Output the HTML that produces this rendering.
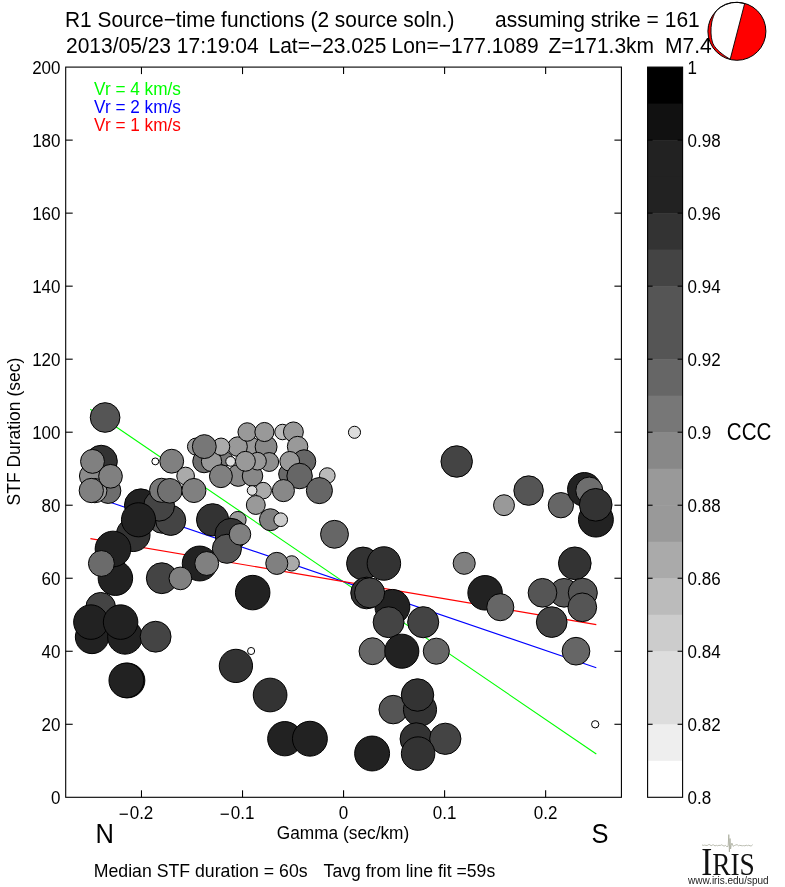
<!DOCTYPE html>
<html><head><meta charset="utf-8"><style>
html,body{margin:0;padding:0;background:#fff;width:785px;height:887px;overflow:hidden}
svg{display:block;font-family:'Liberation Sans', Arial, Helvetica, sans-serif;will-change:transform}
</style></head><body>
<svg width="785" height="887" viewBox="0 0 785 887">
<rect width="785" height="887" fill="#fff"/>
<line x1="90.2" y1="409.2" x2="596.3" y2="754.0" stroke="#00ff00" stroke-width="1.1"/>
<line x1="90.2" y1="495.4" x2="596.3" y2="667.7" stroke="#0000ff" stroke-width="1.1"/>
<line x1="90.4" y1="538.6" x2="596.3" y2="624.6" stroke="#ff0000" stroke-width="1.1"/>
<circle cx="105.1" cy="417.5" r="14.85" fill="#555" stroke="#000" stroke-width="1"/>
<circle cx="101.2" cy="461.4" r="16.15" fill="#333" stroke="#000" stroke-width="1"/>
<circle cx="91.5" cy="476.0" r="12.05" fill="#8c8c8c" stroke="#000" stroke-width="1"/>
<circle cx="108.2" cy="490.8" r="12.65" fill="#6e6e6e" stroke="#000" stroke-width="1"/>
<circle cx="94.8" cy="490.6" r="12.15" fill="#999" stroke="#000" stroke-width="1"/>
<circle cx="92.5" cy="461.4" r="11.95" fill="#808080" stroke="#000" stroke-width="1"/>
<circle cx="110.5" cy="476.3" r="11.85" fill="#808080" stroke="#000" stroke-width="1"/>
<circle cx="91.3" cy="490.5" r="12.15" fill="#808080" stroke="#000" stroke-width="1"/>
<circle cx="155.3" cy="461.4" r="3.45" fill="#fff" stroke="#000" stroke-width="1"/>
<circle cx="171.7" cy="461.2" r="11.95" fill="#808080" stroke="#000" stroke-width="1"/>
<circle cx="185.6" cy="476.0" r="8.85" fill="#aaa" stroke="#000" stroke-width="1"/>
<circle cx="140.8" cy="505.2" r="16.35" fill="#222" stroke="#000" stroke-width="1"/>
<circle cx="162.0" cy="519.4" r="13.85" fill="#555" stroke="#000" stroke-width="1"/>
<circle cx="170.7" cy="520.4" r="15.05" fill="#444" stroke="#000" stroke-width="1"/>
<circle cx="159.1" cy="505.7" r="15.45" fill="#444" stroke="#000" stroke-width="1"/>
<circle cx="161.6" cy="490.3" r="12.05" fill="#777" stroke="#000" stroke-width="1"/>
<circle cx="169.8" cy="490.8" r="12.35" fill="#717171" stroke="#000" stroke-width="1"/>
<circle cx="193.9" cy="490.5" r="12.05" fill="#808080" stroke="#000" stroke-width="1"/>
<circle cx="196.0" cy="446.6" r="8.55" fill="#999" stroke="#000" stroke-width="1"/>
<circle cx="204.1" cy="461.4" r="11.35" fill="#6e6e6e" stroke="#000" stroke-width="1"/>
<circle cx="226.0" cy="459.0" r="6.85" fill="#777" stroke="#000" stroke-width="1"/>
<circle cx="211.5" cy="461.4" r="10.15" fill="#999" stroke="#000" stroke-width="1"/>
<circle cx="251.5" cy="446.8" r="9.35" fill="#999" stroke="#000" stroke-width="1"/>
<circle cx="237.6" cy="446.6" r="9.75" fill="#999" stroke="#000" stroke-width="1"/>
<circle cx="221.1" cy="446.7" r="8.65" fill="#aaa" stroke="#000" stroke-width="1"/>
<circle cx="204.3" cy="446.6" r="11.95" fill="#777" stroke="#000" stroke-width="1"/>
<circle cx="230.6" cy="461.4" r="4.85" fill="#ddd" stroke="#000" stroke-width="1"/>
<circle cx="238.2" cy="475.5" r="10.85" fill="#888" stroke="#000" stroke-width="1"/>
<circle cx="220.9" cy="476.2" r="11.45" fill="#808080" stroke="#000" stroke-width="1"/>
<circle cx="266.1" cy="446.8" r="10.95" fill="#888" stroke="#000" stroke-width="1"/>
<circle cx="247.2" cy="432.0" r="9.25" fill="#999" stroke="#000" stroke-width="1"/>
<circle cx="264.4" cy="432.0" r="9.55" fill="#999" stroke="#000" stroke-width="1"/>
<circle cx="282.5" cy="432.0" r="7.75" fill="#bbb" stroke="#000" stroke-width="1"/>
<circle cx="293.4" cy="431.9" r="9.95" fill="#999" stroke="#000" stroke-width="1"/>
<circle cx="297.6" cy="446.6" r="10.25" fill="#999" stroke="#000" stroke-width="1"/>
<circle cx="252.5" cy="476.0" r="10.25" fill="#888" stroke="#000" stroke-width="1"/>
<circle cx="269.2" cy="462.0" r="9.45" fill="#8f8f8f" stroke="#000" stroke-width="1"/>
<circle cx="257.5" cy="461.2" r="8.85" fill="#999" stroke="#000" stroke-width="1"/>
<circle cx="245.4" cy="461.3" r="9.95" fill="#999" stroke="#000" stroke-width="1"/>
<circle cx="304.1" cy="461.4" r="11.65" fill="#666" stroke="#000" stroke-width="1"/>
<circle cx="289.0" cy="474.0" r="10.35" fill="#6a6a6a" stroke="#000" stroke-width="1"/>
<circle cx="289.7" cy="461.3" r="9.85" fill="#999" stroke="#000" stroke-width="1"/>
<circle cx="299.6" cy="476.0" r="12.75" fill="#666" stroke="#000" stroke-width="1"/>
<circle cx="327.3" cy="475.6" r="7.85" fill="#bbb" stroke="#000" stroke-width="1"/>
<circle cx="263.2" cy="490.6" r="8.25" fill="#aaa" stroke="#000" stroke-width="1"/>
<circle cx="252.1" cy="490.5" r="4.85" fill="#ddd" stroke="#000" stroke-width="1"/>
<circle cx="283.4" cy="490.6" r="11.05" fill="#888" stroke="#000" stroke-width="1"/>
<circle cx="319.4" cy="490.6" r="13.05" fill="#666" stroke="#000" stroke-width="1"/>
<circle cx="255.8" cy="505.0" r="9.45" fill="#999" stroke="#000" stroke-width="1"/>
<circle cx="354.5" cy="432.3" r="6.05" fill="#ddd" stroke="#000" stroke-width="1"/>
<circle cx="133.2" cy="534.7" r="16.85" fill="#333" stroke="#000" stroke-width="1"/>
<circle cx="138.5" cy="519.8" r="17.05" fill="#222" stroke="#000" stroke-width="1"/>
<circle cx="212.6" cy="519.8" r="16.15" fill="#333" stroke="#000" stroke-width="1"/>
<circle cx="237.8" cy="519.8" r="8.35" fill="#999" stroke="#000" stroke-width="1"/>
<circle cx="231.0" cy="534.4" r="16.05" fill="#333" stroke="#000" stroke-width="1"/>
<circle cx="226.9" cy="548.8" r="14.55" fill="#555" stroke="#000" stroke-width="1"/>
<circle cx="240.0" cy="534.3" r="10.75" fill="#808080" stroke="#000" stroke-width="1"/>
<circle cx="270.4" cy="519.7" r="10.95" fill="#808080" stroke="#000" stroke-width="1"/>
<circle cx="280.7" cy="519.7" r="6.85" fill="#ccc" stroke="#000" stroke-width="1"/>
<circle cx="334.5" cy="534.3" r="13.95" fill="#666" stroke="#000" stroke-width="1"/>
<circle cx="115.4" cy="578.2" r="17.25" fill="#222" stroke="#000" stroke-width="1"/>
<circle cx="113.0" cy="549.0" r="17.85" fill="#222" stroke="#000" stroke-width="1"/>
<circle cx="101.4" cy="563.5" r="12.95" fill="#6b6b6b" stroke="#000" stroke-width="1"/>
<circle cx="199.7" cy="563.5" r="17.45" fill="#222" stroke="#000" stroke-width="1"/>
<circle cx="206.7" cy="563.5" r="11.95" fill="#808080" stroke="#000" stroke-width="1"/>
<circle cx="161.8" cy="578.2" r="15.45" fill="#444" stroke="#000" stroke-width="1"/>
<circle cx="180.4" cy="578.4" r="11.35" fill="#808080" stroke="#000" stroke-width="1"/>
<circle cx="291.7" cy="563.4" r="7.65" fill="#aaa" stroke="#000" stroke-width="1"/>
<circle cx="276.8" cy="563.4" r="11.05" fill="#808080" stroke="#000" stroke-width="1"/>
<circle cx="252.7" cy="592.6" r="17.25" fill="#222" stroke="#000" stroke-width="1"/>
<circle cx="100.7" cy="607.3" r="14.85" fill="#444" stroke="#000" stroke-width="1"/>
<circle cx="92.0" cy="637.0" r="16.65" fill="#222" stroke="#000" stroke-width="1"/>
<circle cx="125.0" cy="636.8" r="17.35" fill="#222" stroke="#000" stroke-width="1"/>
<circle cx="90.9" cy="622.1" r="17.25" fill="#222" stroke="#000" stroke-width="1"/>
<circle cx="120.6" cy="622.1" r="17.25" fill="#222" stroke="#000" stroke-width="1"/>
<circle cx="155.6" cy="636.7" r="15.45" fill="#444" stroke="#000" stroke-width="1"/>
<circle cx="127.5" cy="680.5" r="17.35" fill="#111" stroke="#000" stroke-width="1"/>
<circle cx="126.3" cy="680.4" r="17.35" fill="#222" stroke="#000" stroke-width="1"/>
<circle cx="235.9" cy="665.9" r="16.65" fill="#333" stroke="#000" stroke-width="1"/>
<circle cx="251.1" cy="651.0" r="3.55" fill="#fff" stroke="#000" stroke-width="1"/>
<circle cx="270.1" cy="695.0" r="16.85" fill="#333" stroke="#000" stroke-width="1"/>
<circle cx="284.8" cy="738.7" r="17.15" fill="#222" stroke="#000" stroke-width="1"/>
<circle cx="309.9" cy="738.7" r="17.45" fill="#222" stroke="#000" stroke-width="1"/>
<circle cx="363.0" cy="563.5" r="16.45" fill="#333" stroke="#000" stroke-width="1"/>
<circle cx="383.9" cy="563.5" r="16.75" fill="#333" stroke="#000" stroke-width="1"/>
<circle cx="392.4" cy="606.9" r="17.45" fill="#222" stroke="#000" stroke-width="1"/>
<circle cx="366.6" cy="593.0" r="15.85" fill="#333" stroke="#000" stroke-width="1"/>
<circle cx="369.6" cy="592.8" r="15.05" fill="#444" stroke="#000" stroke-width="1"/>
<circle cx="388.6" cy="622.2" r="15.45" fill="#444" stroke="#000" stroke-width="1"/>
<circle cx="423.2" cy="622.2" r="15.55" fill="#444" stroke="#000" stroke-width="1"/>
<circle cx="372.5" cy="651.2" r="13.45" fill="#666" stroke="#000" stroke-width="1"/>
<circle cx="401.8" cy="651.2" r="17.05" fill="#222" stroke="#000" stroke-width="1"/>
<circle cx="436.3" cy="651.2" r="13.05" fill="#666" stroke="#000" stroke-width="1"/>
<circle cx="393.2" cy="709.6" r="14.25" fill="#555" stroke="#000" stroke-width="1"/>
<circle cx="420.0" cy="709.6" r="16.55" fill="#333" stroke="#000" stroke-width="1"/>
<circle cx="417.5" cy="695.0" r="16.25" fill="#333" stroke="#000" stroke-width="1"/>
<circle cx="416.2" cy="738.9" r="16.15" fill="#333" stroke="#000" stroke-width="1"/>
<circle cx="445.3" cy="738.8" r="15.65" fill="#444" stroke="#000" stroke-width="1"/>
<circle cx="418.1" cy="753.6" r="16.75" fill="#333" stroke="#000" stroke-width="1"/>
<circle cx="372.1" cy="753.5" r="17.45" fill="#222" stroke="#000" stroke-width="1"/>
<circle cx="456.7" cy="461.5" r="15.75" fill="#444" stroke="#000" stroke-width="1"/>
<circle cx="504.0" cy="505.2" r="10.45" fill="#999" stroke="#000" stroke-width="1"/>
<circle cx="528.6" cy="490.6" r="14.75" fill="#555" stroke="#000" stroke-width="1"/>
<circle cx="560.9" cy="505.2" r="12.65" fill="#666" stroke="#000" stroke-width="1"/>
<circle cx="584.4" cy="489.4" r="16.85" fill="#222" stroke="#000" stroke-width="1"/>
<circle cx="589.3" cy="490.6" r="13.55" fill="#6e6e6e" stroke="#000" stroke-width="1"/>
<circle cx="595.9" cy="519.6" r="17.45" fill="#222" stroke="#000" stroke-width="1"/>
<circle cx="595.7" cy="504.8" r="16.35" fill="#333" stroke="#000" stroke-width="1"/>
<circle cx="464.2" cy="563.3" r="11.05" fill="#808080" stroke="#000" stroke-width="1"/>
<circle cx="485.1" cy="592.8" r="17.25" fill="#222" stroke="#000" stroke-width="1"/>
<circle cx="500.3" cy="607.2" r="13.55" fill="#666" stroke="#000" stroke-width="1"/>
<circle cx="574.8" cy="563.3" r="16.35" fill="#333" stroke="#000" stroke-width="1"/>
<circle cx="564.1" cy="592.8" r="14.35" fill="#555" stroke="#000" stroke-width="1"/>
<circle cx="542.5" cy="592.8" r="14.35" fill="#555" stroke="#000" stroke-width="1"/>
<circle cx="582.8" cy="592.8" r="14.55" fill="#555" stroke="#000" stroke-width="1"/>
<circle cx="582.3" cy="607.3" r="14.35" fill="#555" stroke="#000" stroke-width="1"/>
<circle cx="551.7" cy="622.1" r="15.35" fill="#444" stroke="#000" stroke-width="1"/>
<circle cx="576.0" cy="651.2" r="13.85" fill="#666" stroke="#000" stroke-width="1"/>
<circle cx="595.2" cy="724.3" r="3.65" fill="#fff" stroke="#000" stroke-width="1"/>
<rect x="65.70" y="67.10" width="555.72" height="730.20" fill="none" stroke="#000" stroke-width="1.1"/>
<text transform="translate(60.50,804.30) scale(1,1.06)" font-size="17" text-anchor="end" fill="#000" >0</text>
<line x1="65.70" y1="724.28" x2="72.70" y2="724.28" stroke="#000" stroke-width="1.1"/>
<line x1="621.42" y1="724.28" x2="614.42" y2="724.28" stroke="#000" stroke-width="1.1"/>
<text transform="translate(60.50,731.28) scale(1,1.06)" font-size="17" text-anchor="end" fill="#000" >20</text>
<line x1="65.70" y1="651.26" x2="72.70" y2="651.26" stroke="#000" stroke-width="1.1"/>
<line x1="621.42" y1="651.26" x2="614.42" y2="651.26" stroke="#000" stroke-width="1.1"/>
<text transform="translate(60.50,658.26) scale(1,1.06)" font-size="17" text-anchor="end" fill="#000" >40</text>
<line x1="65.70" y1="578.24" x2="72.70" y2="578.24" stroke="#000" stroke-width="1.1"/>
<line x1="621.42" y1="578.24" x2="614.42" y2="578.24" stroke="#000" stroke-width="1.1"/>
<text transform="translate(60.50,585.24) scale(1,1.06)" font-size="17" text-anchor="end" fill="#000" >60</text>
<line x1="65.70" y1="505.22" x2="72.70" y2="505.22" stroke="#000" stroke-width="1.1"/>
<line x1="621.42" y1="505.22" x2="614.42" y2="505.22" stroke="#000" stroke-width="1.1"/>
<text transform="translate(60.50,512.22) scale(1,1.06)" font-size="17" text-anchor="end" fill="#000" >80</text>
<line x1="65.70" y1="432.20" x2="72.70" y2="432.20" stroke="#000" stroke-width="1.1"/>
<line x1="621.42" y1="432.20" x2="614.42" y2="432.20" stroke="#000" stroke-width="1.1"/>
<text transform="translate(60.50,439.20) scale(1,1.06)" font-size="17" text-anchor="end" fill="#000" >100</text>
<line x1="65.70" y1="359.18" x2="72.70" y2="359.18" stroke="#000" stroke-width="1.1"/>
<line x1="621.42" y1="359.18" x2="614.42" y2="359.18" stroke="#000" stroke-width="1.1"/>
<text transform="translate(60.50,366.18) scale(1,1.06)" font-size="17" text-anchor="end" fill="#000" >120</text>
<line x1="65.70" y1="286.16" x2="72.70" y2="286.16" stroke="#000" stroke-width="1.1"/>
<line x1="621.42" y1="286.16" x2="614.42" y2="286.16" stroke="#000" stroke-width="1.1"/>
<text transform="translate(60.50,293.16) scale(1,1.06)" font-size="17" text-anchor="end" fill="#000" >140</text>
<line x1="65.70" y1="213.14" x2="72.70" y2="213.14" stroke="#000" stroke-width="1.1"/>
<line x1="621.42" y1="213.14" x2="614.42" y2="213.14" stroke="#000" stroke-width="1.1"/>
<text transform="translate(60.50,220.14) scale(1,1.06)" font-size="17" text-anchor="end" fill="#000" >160</text>
<line x1="65.70" y1="140.12" x2="72.70" y2="140.12" stroke="#000" stroke-width="1.1"/>
<line x1="621.42" y1="140.12" x2="614.42" y2="140.12" stroke="#000" stroke-width="1.1"/>
<text transform="translate(60.50,147.12) scale(1,1.06)" font-size="17" text-anchor="end" fill="#000" >180</text>
<text transform="translate(60.50,74.10) scale(1,1.06)" font-size="17" text-anchor="end" fill="#000" >200</text>
<line x1="141.48" y1="797.30" x2="141.48" y2="790.30" stroke="#000" stroke-width="1.1"/>
<line x1="141.48" y1="67.10" x2="141.48" y2="74.10" stroke="#000" stroke-width="1.1"/>
<text transform="translate(141.48,819.00) scale(1,1.06)" font-size="17" text-anchor="middle" fill="#000" >0.2</text>
<text transform="translate(128.67,820.30) scale(1,1.06)" font-size="17" text-anchor="end" fill="#000" >−</text>
<line x1="242.52" y1="797.30" x2="242.52" y2="790.30" stroke="#000" stroke-width="1.1"/>
<line x1="242.52" y1="67.10" x2="242.52" y2="74.10" stroke="#000" stroke-width="1.1"/>
<text transform="translate(242.52,819.00) scale(1,1.06)" font-size="17" text-anchor="middle" fill="#000" >0.1</text>
<text transform="translate(229.71,820.30) scale(1,1.06)" font-size="17" text-anchor="end" fill="#000" >−</text>
<line x1="343.56" y1="797.30" x2="343.56" y2="790.30" stroke="#000" stroke-width="1.1"/>
<line x1="343.56" y1="67.10" x2="343.56" y2="74.10" stroke="#000" stroke-width="1.1"/>
<text transform="translate(343.56,819.00) scale(1,1.06)" font-size="17" text-anchor="middle" fill="#000" >0</text>
<line x1="444.60" y1="797.30" x2="444.60" y2="790.30" stroke="#000" stroke-width="1.1"/>
<line x1="444.60" y1="67.10" x2="444.60" y2="74.10" stroke="#000" stroke-width="1.1"/>
<text transform="translate(444.60,819.00) scale(1,1.06)" font-size="17" text-anchor="middle" fill="#000" >0.1</text>
<line x1="545.64" y1="797.30" x2="545.64" y2="790.30" stroke="#000" stroke-width="1.1"/>
<line x1="545.64" y1="67.10" x2="545.64" y2="74.10" stroke="#000" stroke-width="1.1"/>
<text transform="translate(545.64,819.00) scale(1,1.06)" font-size="17" text-anchor="middle" fill="#000" >0.2</text>
<text transform="translate(343.00,839.30) scale(1,1.06)" font-size="17.3" text-anchor="middle" fill="#000" >Gamma (sec/km)</text>
<text x="0" y="0" font-size="17.5" text-anchor="middle" transform="translate(19.9,431.6) rotate(-90) scale(1,1.06)">STF Duration (sec)</text>
<text transform="translate(104.80,843.30) scale(1,1.06)" font-size="25.5" text-anchor="middle" fill="#000" >N</text>
<text transform="translate(599.90,843.30) scale(1,1.06)" font-size="25.5" text-anchor="middle" fill="#000" >S</text>
<text transform="translate(93.80,876.90) scale(1,1.06)" font-size="17.7" text-anchor="start" fill="#000" >Median STF duration = 60s</text>
<text transform="translate(323.60,876.90) scale(1,1.06)" font-size="17.6" text-anchor="start" fill="#000" >Tavg from line fit =59s</text>
<text transform="translate(94.10,94.80) scale(1,1.06)" font-size="17.2" text-anchor="start" fill="#00ff00" >Vr = 4 km/s</text>
<text transform="translate(94.10,113.00) scale(1,1.06)" font-size="17.2" text-anchor="start" fill="#0000ff" >Vr = 2 km/s</text>
<text transform="translate(94.10,131.20) scale(1,1.06)" font-size="17.2" text-anchor="start" fill="#ff0000" >Vr = 1 km/s</text>
<text transform="translate(65.00,26.90) scale(1,1.06)" font-size="20.9" text-anchor="start" fill="#000" >R1 Source−time functions (2 source soln.)</text>
<text transform="translate(495.00,26.90) scale(1,1.06)" font-size="21" text-anchor="start" fill="#000" >assuming strike = 161</text>
<text transform="translate(66.00,52.70) scale(1,1.06)" font-size="21" text-anchor="start" fill="#000" >2013/05/23 17:19:04</text>
<text transform="translate(268.50,52.70) scale(1,1.06)" font-size="21" text-anchor="start" fill="#000" >Lat=−23.025</text>
<text transform="translate(391.50,52.70) scale(1,1.06)" font-size="21" text-anchor="start" fill="#000" >Lon=−177.1089</text>
<text transform="translate(548.50,52.70) scale(1,1.06)" font-size="21" text-anchor="start" fill="#000" >Z=171.3km</text>
<text transform="translate(665.00,52.70) scale(1,1.06)" font-size="21" text-anchor="start" fill="#000" >M7.4</text>
<rect x="647.6" y="67.10" width="35.0" height="37.11" fill="#000"/>
<rect x="647.6" y="103.61" width="35.0" height="37.11" fill="#111"/>
<rect x="647.6" y="140.12" width="35.0" height="37.11" fill="#222"/>
<rect x="647.6" y="176.63" width="35.0" height="37.11" fill="#222"/>
<rect x="647.6" y="213.14" width="35.0" height="37.11" fill="#333"/>
<rect x="647.6" y="249.65" width="35.0" height="37.11" fill="#444"/>
<rect x="647.6" y="286.16" width="35.0" height="37.11" fill="#555"/>
<rect x="647.6" y="322.67" width="35.0" height="37.11" fill="#555"/>
<rect x="647.6" y="359.18" width="35.0" height="37.11" fill="#666"/>
<rect x="647.6" y="395.69" width="35.0" height="37.11" fill="#777"/>
<rect x="647.6" y="432.20" width="35.0" height="37.11" fill="#888"/>
<rect x="647.6" y="468.71" width="35.0" height="37.11" fill="#999"/>
<rect x="647.6" y="505.22" width="35.0" height="37.11" fill="#999"/>
<rect x="647.6" y="541.73" width="35.0" height="37.11" fill="#aaa"/>
<rect x="647.6" y="578.24" width="35.0" height="37.11" fill="#bbb"/>
<rect x="647.6" y="614.75" width="35.0" height="37.11" fill="#ccc"/>
<rect x="647.6" y="651.26" width="35.0" height="37.11" fill="#ddd"/>
<rect x="647.6" y="687.77" width="35.0" height="37.11" fill="#ddd"/>
<rect x="647.6" y="724.28" width="35.0" height="37.11" fill="#eee"/>
<rect x="647.6" y="760.79" width="35.0" height="37.11" fill="#fff"/>
<rect x="647.6" y="67.1" width="35.0" height="730.20" fill="none" stroke="#000" stroke-width="1.1"/>
<text transform="translate(687.60,804.10) scale(1,1.06)" font-size="17" text-anchor="start" fill="#000" >0.8</text>
<line x1="647.6" y1="724.28" x2="652.60" y2="724.28" stroke="#000" stroke-width="1.1"/>
<line x1="682.6" y1="724.28" x2="677.60" y2="724.28" stroke="#000" stroke-width="1.1"/>
<text transform="translate(687.60,731.08) scale(1,1.06)" font-size="17" text-anchor="start" fill="#000" >0.82</text>
<line x1="647.6" y1="651.26" x2="652.60" y2="651.26" stroke="#000" stroke-width="1.1"/>
<line x1="682.6" y1="651.26" x2="677.60" y2="651.26" stroke="#000" stroke-width="1.1"/>
<text transform="translate(687.60,658.06) scale(1,1.06)" font-size="17" text-anchor="start" fill="#000" >0.84</text>
<line x1="647.6" y1="578.24" x2="652.60" y2="578.24" stroke="#000" stroke-width="1.1"/>
<line x1="682.6" y1="578.24" x2="677.60" y2="578.24" stroke="#000" stroke-width="1.1"/>
<text transform="translate(687.60,585.04) scale(1,1.06)" font-size="17" text-anchor="start" fill="#000" >0.86</text>
<line x1="647.6" y1="505.22" x2="652.60" y2="505.22" stroke="#000" stroke-width="1.1"/>
<line x1="682.6" y1="505.22" x2="677.60" y2="505.22" stroke="#000" stroke-width="1.1"/>
<text transform="translate(687.60,512.02) scale(1,1.06)" font-size="17" text-anchor="start" fill="#000" >0.88</text>
<line x1="647.6" y1="432.20" x2="652.60" y2="432.20" stroke="#000" stroke-width="1.1"/>
<line x1="682.6" y1="432.20" x2="677.60" y2="432.20" stroke="#000" stroke-width="1.1"/>
<text transform="translate(687.60,439.00) scale(1,1.06)" font-size="17" text-anchor="start" fill="#000" >0.9</text>
<line x1="647.6" y1="359.18" x2="652.60" y2="359.18" stroke="#000" stroke-width="1.1"/>
<line x1="682.6" y1="359.18" x2="677.60" y2="359.18" stroke="#000" stroke-width="1.1"/>
<text transform="translate(687.60,365.98) scale(1,1.06)" font-size="17" text-anchor="start" fill="#000" >0.92</text>
<line x1="647.6" y1="286.16" x2="652.60" y2="286.16" stroke="#000" stroke-width="1.1"/>
<line x1="682.6" y1="286.16" x2="677.60" y2="286.16" stroke="#000" stroke-width="1.1"/>
<text transform="translate(687.60,292.96) scale(1,1.06)" font-size="17" text-anchor="start" fill="#000" >0.94</text>
<line x1="647.6" y1="213.14" x2="652.60" y2="213.14" stroke="#000" stroke-width="1.1"/>
<line x1="682.6" y1="213.14" x2="677.60" y2="213.14" stroke="#000" stroke-width="1.1"/>
<text transform="translate(687.60,219.94) scale(1,1.06)" font-size="17" text-anchor="start" fill="#000" >0.96</text>
<line x1="647.6" y1="140.12" x2="652.60" y2="140.12" stroke="#000" stroke-width="1.1"/>
<line x1="682.6" y1="140.12" x2="677.60" y2="140.12" stroke="#000" stroke-width="1.1"/>
<text transform="translate(687.60,146.92) scale(1,1.06)" font-size="17" text-anchor="start" fill="#000" >0.98</text>
<text transform="translate(687.60,73.90) scale(1,1.06)" font-size="17" text-anchor="start" fill="#000" >1</text>
<text transform="translate(726.80,440.30) scale(1,1.06)" font-size="22" text-anchor="start" fill="#000" textLength="44.5" lengthAdjust="spacingAndGlyphs">CCC</text>
<circle cx="736.9" cy="31.3" r="29.0" fill="#ff0000"/>
<path d="M744.6 3.7 L730.20 59.30 C728.97 58.48 725.17 56.25 722.80 54.40 C720.43 52.55 717.73 50.27 716.00 48.20 C714.27 46.13 713.23 44.53 712.40 42.00 C711.57 39.47 711.10 36.33 711.00 33.00 C710.90 29.67 711.08 25.45 711.80 22.00 C712.52 18.55 714.02 14.70 715.30 12.30 C716.58 9.90 718.80 8.38 719.50 7.60 A29 29 0 0 1 744.6 3.7 Z" fill="#fff" stroke="#000" stroke-width="0.9" stroke-linejoin="round"/>
<circle cx="736.9" cy="31.3" r="29.0" fill="none" stroke="#000" stroke-width="1"/>
<path d="M702.0 844.9 L703.3 845.4 L704.6 845.1 L705.9 845.4 L707.2 845.5 L708.5 844.7 L709.8 844.6 L711.1 845.8 L712.4 845.0 L713.7 844.9 L715.0 846.0 L716.3 845.3 L717.6 845.8 L718.9 845.3 L720.2 845.5 L721.5 844.8 L722.8 845.5 L724.1 846.1 L725.4 845.4 L726.7 846.5 L728.0 846.4 L728.2 845.3 L728.8 834.6 L729.4 851.9 L730.0 838.5 L730.6 849.0 L731.2 845.3 L731.9 843.1 L733.2 846.3 L734.5 845.5 L735.8 845.0 L737.1 844.6 L738.4 845.8 L739.7 845.3 L741.0 845.6 L742.3 845.8 L743.6 845.6 L744.9 845.9 L746.2 845.2 L747.5 845.7 L748.8 845.2 L750.1 845.9 L751.4 845.8 L752.7 844.7" fill="none" stroke="#a8ab9c" stroke-width="0.8"/>
<text x="701.2" y="874.8" font-family="'Liberation Serif', serif" fill="#111" textLength="53.6" lengthAdjust="spacingAndGlyphs"><tspan font-size="39">I</tspan><tspan font-size="32.3">RIS</tspan></text>
<text x="688" y="884.0" font-size="10.2" fill="#222" textLength="80.6" lengthAdjust="spacingAndGlyphs">www.iris.edu/spud</text>
</svg>
</body></html>
